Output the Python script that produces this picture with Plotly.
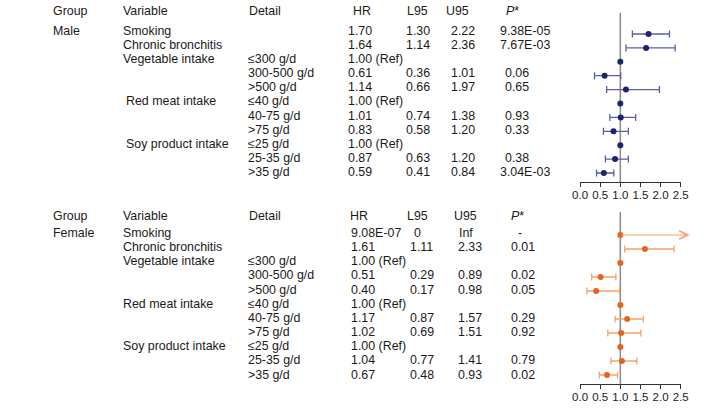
import math
import plotly.graph_objects as go

# ---------------- data ----------------
variables = ["Smoking", "Chronic bronchitis", "Vegetable intake", "", "",
             "Red meat intake", "", "", "Soy product intake", "", ""]
details = ["", "", "≤300 g/d", "300-500 g/d", ">500 g/d",
           "≤40 g/d", "40-75 g/d", ">75 g/d", "≤25 g/d", "25-35 g/d", ">35 g/d"]
is_ref = [False, False, True, False, False, True, False, False, True, False, False]

male_hr = [1.70, 1.64, 1.00, 0.61, 1.14, 1.00, 1.01, 0.83, 1.00, 0.87, 0.59]
male_l95 = [1.30, 1.14, None, 0.36, 0.66, None, 0.74, 0.58, None, 0.63, 0.41]
male_u95 = [2.22, 2.36, None, 1.01, 1.97, None, 1.38, 1.20, None, 1.20, 0.84]
male_p = ["9.38E-05", "7.67E-03", "", "0.06", "0.65", "", "0.93", "0.33", "", "0.38", "3.04E-03"]

female_hr = [9.08e-07, 1.61, 1.00, 0.51, 0.40, 1.00, 1.17, 1.02, 1.00, 1.04, 0.67]
female_l95 = [0, 1.11, None, 0.29, 0.17, None, 0.87, 0.69, None, 0.77, 0.48]
female_u95 = [math.inf, 2.33, None, 0.89, 0.98, None, 1.57, 1.51, None, 1.41, 0.93]
female_p = ["-", "0.01", "", "0.02", "0.05", "", "0.29", "0.92", "", "0.79", "0.02"]

tick_vals = [0.0, 0.5, 1.0, 1.5, 2.0, 2.5]
headers = ["Group", "Variable", "Detail", "HR", "L95", "U95", "<i>P</i>*"]

# ---------------- styling ----------------
W, H = 722, 412
FONT = "Liberation Sans"
TXT = "#1a1a1a"
FS = 12.4
XSHIFT = -6
YSHIFT = -1
male_dot, male_bar = "#1c2470", "#5b5ea6"
fem_dot, fem_bar = "#e8621e", "#f2a46c"


def px(x):
    return x / W


def py(y):
    return 1 - y / H


def fmt_num(v):
    if v is None:
        return ""
    if isinstance(v, float) and math.isinf(v):
        return "Inf"
    if v == 0:
        return "0"
    if abs(v) < 1e-3:
        return f"{v:.2E}"
    return f"{v:.2f}"


def hr_text(v, ref):
    if ref:
        return "1.00 (Ref)"
    return fmt_num(v)


fig = go.Figure()
annotations = []


def add_text(x, y, s):
    annotations.append(dict(x=px(x + XSHIFT), y=py(y + YSHIFT), xref="paper", yref="paper",
                            text=s, showarrow=False, xanchor="left", yanchor="middle",
                            borderpad=0,
                            font=dict(family=FONT, size=FS, color=TXT)))


def build_block(group, hr, l95, u95, pv, head_y, row0, rstep, cols, var_x, xa, ya,
                dot_c, bar_c):
    for h, x in zip(headers, cols["head"]):
        add_text(x, head_y, h)
    add_text(51, row0, group)
    for i in range(len(variables)):
        y = row0 + i * rstep
        if variables[i]:
            add_text(var_x[i], y, variables[i])
        if details[i]:
            add_text(250, y, details[i])
        add_text(cols["hr"], y, hr_text(hr[i], is_ref[i]))
        if not is_ref[i]:
            lx = cols["l0"] if l95[i] == 0 else cols["l"]
            add_text(lx, y, fmt_num(l95[i]))
            ux = cols["uinf"] if math.isinf(u95[i]) else cols["u"]
            add_text(ux, y, fmt_num(u95[i]))
            ppx = cols["pdash"] if pv[i] == "-" else (cols["pe"] if "E" in pv[i] else cols["p"])
            add_text(ppx, y, pv[i])

    ci_idx = [i for i in range(len(hr)) if not is_ref[i] and not math.isinf(u95[i])]
    inf_idx = [i for i in range(len(hr)) if not is_ref[i] and math.isinf(u95[i])]
    ref_idx = [i for i in range(len(hr)) if is_ref[i]]

    fig.add_trace(go.Scatter(
        x=[hr[i] for i in ci_idx], y=ci_idx, mode="markers",
        marker=dict(color=dot_c, size=6),
        error_x=dict(type="data", symmetric=False,
                     array=[u95[i] - hr[i] for i in ci_idx],
                     arrayminus=[hr[i] - l95[i] for i in ci_idx],
                     color=bar_c, thickness=1.3, width=3.5),
        xaxis=xa, yaxis=ya, showlegend=False, cliponaxis=False))
    # reference rows and non-estimable rows are drawn at the null value (HR = 1)
    fig.add_trace(go.Scatter(
        x=[1.0 for _ in ref_idx] + [1.0 for _ in inf_idx], y=ref_idx + inf_idx,
        mode="markers", marker=dict(color=dot_c, size=6),
        xaxis=xa, yaxis=ya, showlegend=False, cliponaxis=False))
    xr = "x" if xa == "x" else "x2"
    yr = "y" if ya == "y" else "y2"
    for i in inf_idx:
        annotations.append(dict(x=tick_vals[-1] + 0.22, y=i, xref=xr, yref=yr,
                                ax=1.0, ay=i, axref=xr, ayref=yr, text="",
                                showarrow=True, arrowhead=5, arrowsize=1.4,
                                arrowwidth=1.2, arrowcolor=bar_c))
    fig.add_shape(type="line", xref=xr, yref=yr + " domain", x0=1, x1=1, y0=0, y1=1,
                  line=dict(color="#8a8a8a", width=1.5), layer="below")


male_cols = dict(head=[51, 123, 251, 358, 413, 453, 514], hr=353, l=412, l0=420,
                 u=458, uinf=466, p=513, pe=508, pdash=527)
female_cols = dict(head=[51, 123, 251, 355, 413, 461, 519], hr=356, l=416, l0=420,
                   u=465, uinf=466, p=519, pe=508, pdash=527)
male_var_x = [123, 123, 123, 123, 123, 126, 126, 126, 126, 126, 126]
female_var_x = [123] * 11

build_block("Male", male_hr, male_l95, male_u95, male_p, 12, 32, 14.1,
            male_cols, male_var_x, "x", "y", male_dot, male_bar)
build_block("Female", female_hr, female_l95, female_u95, female_p, 217, 234, 14.15,
            female_cols, female_var_x, "x2", "y2", fem_dot, fem_bar)

axis_common = dict(range=[tick_vals[0], tick_vals[-1]], tickvals=tick_vals,
                   ticktext=[f"{v:.1f}" for v in tick_vals],
                   showline=True, linecolor="#333333", linewidth=1.2,
                   ticks="outside", ticklen=4, tickcolor="#333333", tickwidth=1.2,
                   ticklabelstandoff=-2,
                   showgrid=False, zeroline=False,
                   tickfont=dict(family=FONT, size=11.5, color=TXT),
                   domain=[px(585), px(688)])

fig.update_layout(
    width=W, height=H,
    margin=dict(l=0, r=0, t=0, b=0),
    paper_bgcolor="white", plot_bgcolor="white",
    xaxis=dict(**axis_common, anchor="y"),
    yaxis=dict(range=[(182 - 34) / 13.9, (13 - 34) / 13.9], domain=[py(182), py(13)],
               visible=False, anchor="x"),
    xaxis2=dict(**axis_common, anchor="y2"),
    yaxis2=dict(range=[(384 - 235) / 14.0, (212 - 235) / 14.0], domain=[py(384), py(212)],
                visible=False, anchor="x2"),
    annotations=annotations,
    showlegend=False,
)

fig.write_html("out.html")
